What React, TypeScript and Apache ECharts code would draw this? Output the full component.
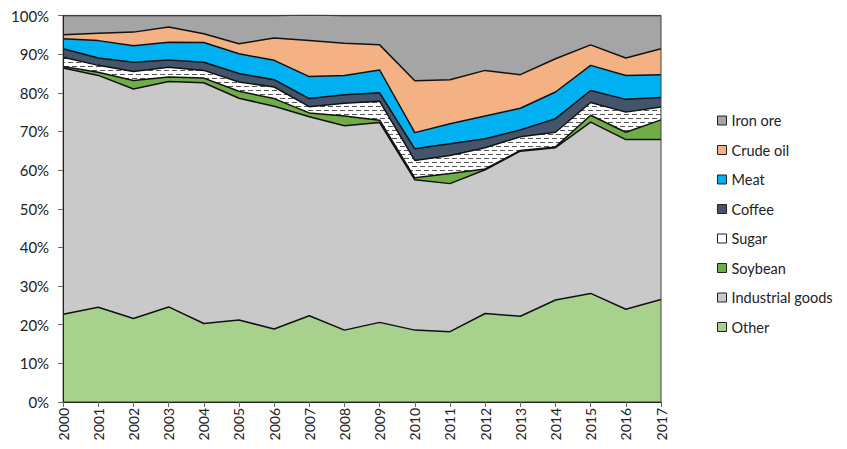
import React, { useEffect, useRef } from "react";
import * as echarts from "echarts";

const years = ["2000","2001","2002","2003","2004","2005","2006","2007","2008","2009","2010","2011","2012","2013","2014","2015","2016","2017"];
const yTicks = [0, 10, 20, 30, 40, 50, 60, 70, 80, 90, 100];

const other = [22.7,24.5,21.6,24.6,20.3,21.2,18.9,22.3,18.6,20.6,18.6,18.2,22.9,22.2,26.4,28.1,24.0,26.5];
const industrial = [63.7,60.0,59.4,58.3,62.3,57.4,57.6,51.5,52.9,51.7,38.9,38.3,37.2,42.7,39.4,44.3,43.9,41.4];
const soybean = [0.4,0.8,2.2,1.2,1.2,1.8,2.0,1.0,2.5,0.6,0.5,2.6,0.2,0.2,0.2,1.8,1.9,5.1];
const sugar = [2.4,1.8,2.3,2.5,2.0,2.4,3.0,1.6,3.3,4.9,4.5,4.7,5.5,3.5,3.8,3.3,5.2,3.3];
const coffee = [2.2,1.9,2.4,1.9,2.1,2.2,1.9,2.1,2.2,2.2,3.0,3.0,2.3,1.8,3.5,3.1,3.3,2.5];
const meat = [2.6,4.5,4.3,4.6,5.1,5.1,5.0,5.7,5.0,5.9,4.2,5.2,5.9,5.6,6.9,6.5,6.2,5.9];
const crudeOil = [1.0,1.9,3.5,3.9,2.3,2.6,5.8,9.3,8.3,6.5,13.4,11.4,11.8,8.7,8.6,5.3,4.5,6.7];
const ironOre = [5.0,4.6,4.3,3.0,4.7,7.3,5.8,6.6,7.2,7.6,16.9,16.6,14.2,15.3,11.2,7.6,11.0,8.6];

function makeSugarPattern() {
  const c = document.createElement("canvas");
  c.width = 8;
  c.height = 8;
  const ctx = c.getContext("2d")!;
  ctx.fillStyle = "#ffffff";
  ctx.fillRect(0, 0, 8, 8);
  ctx.fillStyle = "#555555";
  ctx.fillRect(0, 2, 5, 1);
  ctx.fillRect(4, 6, 4, 1);
  ctx.fillRect(0, 6, 1, 1);
  return c;
}

export default function App() {
  const ref = useRef<HTMLDivElement>(null);
  useEffect(() => {
    if (!ref.current) return;
    const chart = echarts.init(ref.current, undefined, { renderer: "svg" });
    const pat = makeSugarPattern();
    const sugarFill: any = { image: pat, repeat: "repeat", imageWidth: 8, imageHeight: 8 };
    const defs = [
      { name: "Other", data: other, color: "#A9D18E" },
      { name: "Industrial goods", data: industrial, color: "#C9C9C9" },
      { name: "Soybean", data: soybean, color: "#70AD47" },
      { name: "Sugar", data: sugar, color: sugarFill, legendColor: "#ffffff" },
      { name: "Coffee", data: coffee, color: "#44546A" },
      { name: "Meat", data: meat, color: "#00B0F0" },
      { name: "Crude oil", data: crudeOil, color: "#F4B183" },
      { name: "Iron ore", data: ironOre, color: "#A5A5A5" },
    ];
    const font = "Lato, 'Open Sans', sans-serif";
    chart.setOption({
      animation: false,
      backgroundColor: "#ffffff",
      grid: {
        left: 54, right: 186, top: 7, bottom: 47,
        show: true, borderColor: "#404040", borderWidth: 1, backgroundColor: "transparent", z: 20,
      },
      legend: {
        orient: "vertical",
        left: 704,
        top: 100,
        itemWidth: 9,
        itemHeight: 9,
        itemGap: 14.5,
        icon: "rect",
        data: defs.slice().reverse().map((d) => d.name),
        textStyle: { fontFamily: font, fontSize: 14.5, color: "#222" },
        itemStyle: { borderColor: "#222", borderWidth: 1 },
      },
      xAxis: {
        type: "category",
        data: years,
        boundaryGap: false,
        z: 20,
        axisLine: { lineStyle: { color: "#222", width: 1 } },
        axisTick: { show: true, length: 5, lineStyle: { color: "#666" }, alignWithLabel: true },
        axisLabel: { rotate: 90, fontFamily: font, fontSize: 14, color: "#222", margin: 6, interval: 0 },
        splitLine: { show: false },
      },
      yAxis: {
        type: "value",
        min: yTicks[0],
        max: yTicks[yTicks.length - 1],
        interval: 10,
        z: 20,
        axisLine: { show: true, lineStyle: { color: "#222", width: 1 } },
        axisTick: { show: true, length: 5, lineStyle: { color: "#666" } },
        axisLabel: { formatter: "{value}%", fontFamily: font, fontSize: 15, color: "#222", margin: 14 },
        splitLine: { show: false },
      },
      series: defs.map((d, i) => ({
        name: d.name,
        type: "line",
        stack: "total",
        data: d.data,
        symbol: "none",
        z: 12 - i,
        color: (d as any).legendColor || d.color,
        itemStyle: { color: (d as any).legendColor || d.color, borderColor: "#222", borderWidth: 1 },
        lineStyle: { color: "#111", width: 1.5 },
        areaStyle: { color: d.color, opacity: 1 },
      })),
    });
    return () => chart.dispose();
  }, []);
  return <div ref={ref} style={{ width: 839, height: 441 }} />;
}
